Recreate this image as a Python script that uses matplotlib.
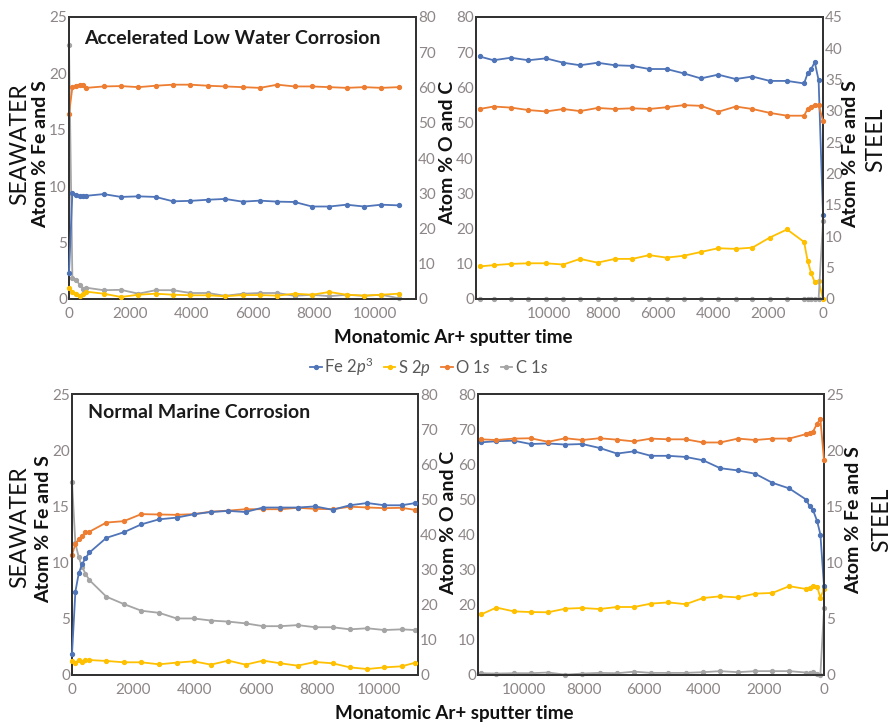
import matplotlib
matplotlib.use('Agg')
import matplotlib.pyplot as plt
from matplotlib.lines import Line2D

plt.rcParams['font.family'] = ['Lato', 'DejaVu Sans']
plt.rcParams['mathtext.fontset'] = 'custom'
plt.rcParams['mathtext.rm'] = 'Lato'
plt.rcParams['mathtext.it'] = 'Lato:italic'
plt.rcParams['mathtext.bf'] = 'Lato:bold'

# ---------------- data ----------------
# Top-left: Accelerated Low Water Corrosion, seawater side
t_tl = [0, 110, 240, 350, 460, 570, 1130, 1700, 2270, 2830, 3400, 3970, 4540, 5100,
        5670, 6240, 6810, 7370, 7940, 8510, 9070, 9640, 10210, 10780]
fe_tl = [2.3, 9.4, 9.2, 9.15, 9.15, 9.15, 9.3, 9.05, 9.1, 9.05, 8.66, 8.7, 8.8, 8.87,
         8.63, 8.72, 8.63, 8.6, 8.2, 8.2, 8.36, 8.2, 8.36, 8.3]
s_tl = [0.98, 0.65, 0.42, 0.3, 0.42, 0.65, 0.47, 0.18, 0.38, 0.47, 0.38, 0.33, 0.33, 0.24,
        0.35, 0.35, 0.3, 0.47, 0.38, 0.62, 0.38, 0.3, 0.38, 0.47]
o_tl = [52.5, 60.0, 60.5, 60.8, 60.8, 59.9, 60.3, 60.4, 60.1, 60.5, 60.8, 60.8, 60.5, 60.3,
        60.1, 59.9, 60.8, 60.3, 60.3, 60.1, 59.9, 60.1, 59.9, 60.1]
c_tl = [72.0, 6.0, 5.4, 4.0, 2.8, 3.2, 2.5, 2.6, 1.5, 2.5, 2.5, 1.7, 1.7, 0.9,
        1.5, 1.7, 1.7, 0.9, 1.2, 0.8, 1.2, 0.9, 1.2, 0.2]

# Top-right: Accelerated Low Water Corrosion, steel side (reversed time)
t_tr = [12510, 12000, 11370, 10730, 10090, 9460, 8850, 8210, 7580, 6950, 6330, 5700,
        5070, 4450, 3820, 3180, 2570, 1940, 1310, 690, 560, 430, 300, 160, 0]
fe_tr = [38.7, 38.1, 38.5, 38.1, 38.4, 37.7, 37.3, 37.7, 37.3, 37.2, 36.7, 36.7,
         36.0, 35.2, 35.8, 35.1, 35.5, 34.8, 34.8, 34.4, 36.0, 36.7, 37.8, 34.9, 13.4]
s_tr = [5.2, 5.4, 5.6, 5.7, 5.7, 5.5, 6.4, 5.8, 6.4, 6.4, 7.0, 6.6,
        6.9, 7.5, 8.1, 8.0, 8.2, 9.8, 11.1, 9.1, 6.1, 4.1, 2.7, 2.9, 0.0]
o_tr = [53.9, 54.6, 54.3, 53.6, 53.2, 53.9, 53.3, 54.2, 53.9, 54.1, 53.9, 54.4,
        55.0, 54.8, 53.1, 54.6, 53.9, 52.8, 52.0, 52.0, 53.9, 54.6, 55.1, 55.0, 50.5]
c_tr = [0, 0, 0, 0, 0, 0, 0, 0, 0, 0, 0, 0,
        0, 0, 0, 0, 0, 0, 0, 0, 0, 0, 0, 0, 22.0]

# Bottom-left: Normal Marine Corrosion, seawater side
t_bl = [0, 110, 220, 330, 440, 570, 1120, 1690, 2260, 2840, 3410, 3970, 4530, 5100,
        5660, 6230, 6800, 7360, 7930, 8500, 9060, 9630, 10190, 10750, 11200]
fe_bl = [1.84, 7.4, 9.05, 9.85, 10.4, 10.9, 12.2, 12.7, 13.4, 13.85, 14.0, 14.3, 14.5, 14.6,
         14.5, 14.9, 14.9, 14.9, 15.0, 14.7, 15.1, 15.3, 15.1, 15.1, 15.3]
s_bl = [1.27, 1.1, 1.33, 1.18, 1.33, 1.33, 1.25, 1.13, 1.13, 0.95, 1.1, 1.22, 0.92, 1.28,
        0.92, 1.28, 1.04, 0.83, 1.16, 1.04, 0.68, 0.53, 0.68, 0.77, 1.1]
o_bl = [34.2, 37.3, 38.7, 39.6, 40.6, 40.8, 43.4, 43.8, 45.8, 45.7, 45.6, 45.8, 46.5, 46.8,
        47.2, 47.2, 47.2, 47.6, 47.3, 47.2, 47.9, 47.7, 47.5, 47.6, 47.0]
c_bl = [55.0, 37.5, 33.5, 30.8, 28.8, 27.0, 22.3, 20.2, 18.3, 17.7, 16.1, 16.1, 15.5, 15.2,
        14.7, 13.9, 13.9, 14.2, 13.6, 13.6, 13.0, 13.3, 12.8, 13.0, 12.8]

# Bottom-right: Normal Marine Corrosion, steel side (reversed time)
t_br = [11420, 10920, 10340, 9780, 9200, 8620, 8060, 7480, 6900, 6330, 5770, 5190,
        4610, 4030, 3460, 2870, 2290, 1720, 1160, 590, 480, 370, 230, 120, 0]
fe_br = [20.7, 20.8, 20.85, 20.55, 20.6, 20.5, 20.55, 20.2, 19.7, 19.9, 19.5, 19.5,
         19.4, 19.1, 18.4, 18.2, 17.9, 17.1, 16.6, 15.6, 15.0, 14.7, 13.7, 12.5, 7.9]
s_br = [5.4, 6.0, 5.66, 5.6, 5.58, 5.9, 5.96, 5.87, 6.05, 6.05, 6.35, 6.46,
        6.3, 6.85, 7.0, 6.9, 7.24, 7.3, 7.9, 7.65, 7.7, 7.95, 7.86, 6.88, 7.65]
o_br = [67.1, 66.9, 67.3, 67.4, 66.4, 67.4, 66.9, 67.4, 67.0, 66.5, 67.3, 67.1,
        67.1, 66.2, 66.2, 67.3, 66.9, 67.3, 67.3, 68.6, 69.0, 69.2, 71.6, 72.8, 61.2]
c_br = [0.5, 0.4, 0.5, 0.5, 0.7, 0.1, 0.4, 0.6, 0.5, 0.95, 0.6, 0.6,
        0.6, 0.8, 1.1, 0.8, 1.1, 1.1, 1.1, 0.7, 0.5, 0.9, 0.4, 0.1, 19.0]

ticks_feS_sea = [0, 5, 10, 15, 20, 25]
ticks_oc = [0, 10, 20, 30, 40, 50, 60, 70, 80]
ticks_feS_tr = [0, 5, 10, 15, 20, 25, 30, 35, 40, 45]
ticks_feS_br = [0, 5, 10, 15, 20, 25]
xticks_sea = [0, 2000, 4000, 6000, 8000, 10000]
xticks_steel = [0, 2000, 4000, 6000, 8000, 10000]

legend_labels = ['Fe 2$\\mathit{p}^3$', 'S 2$\\mathit{p}$', 'O 1$\\mathit{s}$', 'C 1$\\mathit{s}$']

# ---------------- style ----------------
W, H = 893, 724
fig = plt.figure(figsize=(W / 100, H / 100), dpi=100)


def rect(l, t, r, b):
    return [l / W, 1 - b / H, (r - l) / W, (b - t) / H]


C_FE = '#4f74b8'
C_S = '#ffc000'
C_O = '#ed7d31'
C_C = '#a5a5a5'
TICKC = '#8e8686'
SPINEC = '#333333'
TFS = 11


def series(ax, t, v, color, z):
    return ax.plot(t, v, color=color, lw=1.3, marker='o', ms=2.8, mfc=color, mec=color,
                   zorder=z, clip_on=False)[0]


def style(ax, ax2, xlim, xticks, yl, yt_l, yr, yt_r, right_spine=SPINEC):
    ax.set_xlim(*xlim)
    ax.set_xticks(xticks)
    ax.set_ylim(*yl)
    ax.set_yticks(yt_l)
    ax2.set_ylim(*yr)
    ax2.set_yticks(yt_r)
    for a in (ax, ax2):
        a.tick_params(length=0, labelsize=TFS, labelcolor=TICKC, pad=1.5)
        for s in a.spines.values():
            s.set_color(SPINEC)
            s.set_linewidth(1.4)
    ax.tick_params(axis='x', pad=6)
    ax2.spines['right'].set_color(right_spine)
    ax.set_zorder(ax2.get_zorder() + 1)
    ax.patch.set_visible(False)


TITLE = dict(fontsize=14, fontweight='bold', color='#1a1a1a', ha='left', va='center')

# Top-left
ax = fig.add_axes(rect(69, 17, 416, 299))
ax2 = ax.twinx()
series(ax2, t_tl, c_tl, C_C, 2)
series(ax2, t_tl, o_tl, C_O, 3)
series(ax, t_tl, s_tl, C_S, 3)
series(ax, t_tl, fe_tl, C_FE, 4)
style(ax, ax2, (0, 11340), xticks_sea, (0, 25), ticks_feS_sea, (0, 80), ticks_oc)
ax.text((84 - 69) / 347, 1 - (38 - 17) / 282, 'Accelerated Low Water Corrosion',
        transform=ax.transAxes, **TITLE)

# Top-right
ax = fig.add_axes(rect(476, 17, 823, 299))
ax2 = ax.twinx()
series(ax, t_tr, c_tr, C_C, 2)
series(ax, t_tr, o_tr, C_O, 3)
series(ax2, t_tr, s_tr, C_S, 3)
series(ax2, t_tr, fe_tr, C_FE, 4)
style(ax, ax2, (12640, 0), xticks_steel, (0, 80), ticks_oc, (0, 45), ticks_feS_tr)

# Bottom-left
ax = fig.add_axes(rect(72, 394, 418, 675))
ax2 = ax.twinx()
series(ax2, t_bl, c_bl, C_C, 2)
series(ax2, t_bl, o_bl, C_O, 3)
series(ax, t_bl, s_bl, C_S, 3)
series(ax, t_bl, fe_bl, C_FE, 4)
style(ax, ax2, (0, 11285), xticks_sea, (0, 25), ticks_feS_sea, (0, 80), ticks_oc,
      right_spine='#a8a0a0')
ax.text((88 - 72) / 346, 1 - (413 - 394) / 281, 'Normal Marine Corrosion',
        transform=ax.transAxes, **TITLE)

# Bottom-right
ax = fig.add_axes(rect(478, 394, 824, 675))
ax2 = ax.twinx()
series(ax, t_br, c_br, C_C, 2)
series(ax, t_br, o_br, C_O, 3)
series(ax2, t_br, s_br, C_S, 3)
series(ax2, t_br, fe_br, C_FE, 4)
style(ax, ax2, (11533, 0), xticks_steel, (0, 80), ticks_oc, (0, 25), ticks_feS_br)


# ---------------- labels ----------------
def ftext(x, y, s, **kw):
    fig.text(x / W, 1 - y / H, s, ha='center', va='center', **kw)


LBL = dict(rotation=90, fontsize=14, fontweight='bold', color='#111111')
SIDE = dict(rotation=90, fontsize=16.5, color='#111111')

ftext(20, 144, 'SEAWATER', **SIDE)
ftext(41, 154, 'Atom % Fe and S', **LBL)
ftext(448, 153, 'Atom % O and C', **LBL)
ftext(851, 154, 'Atom % Fe and S', **LBL)
ftext(876, 140, 'STEEL', **SIDE)

ftext(20, 527, 'SEAWATER', **SIDE)
ftext(44, 529, 'Atom % Fe and S', **LBL)
ftext(449, 523, 'Atom % O and C', **LBL)
ftext(854, 520, 'Atom % Fe and S', **LBL)
ftext(882, 520, 'STEEL', **SIDE)

ftext(453, 338, 'Monatomic Ar+ sputter time', fontsize=13.5, fontweight='bold', color='#111111')
ftext(454, 713, 'Monatomic Ar+ sputter time', fontsize=13.5, fontweight='bold', color='#111111')

handles = [Line2D([], [], color=c, lw=1.3, marker='o', ms=2.8) for c in (C_FE, C_S, C_O, C_C)]
fig.legend(handles, legend_labels, loc='center', bbox_to_anchor=(429 / W, 1 - 367 / H), ncol=4,
           frameon=False, handlelength=0.7, handletextpad=0.15, columnspacing=0.6,
           fontsize=12, labelcolor='#595959')

fig.savefig('out.png', dpi=100)
